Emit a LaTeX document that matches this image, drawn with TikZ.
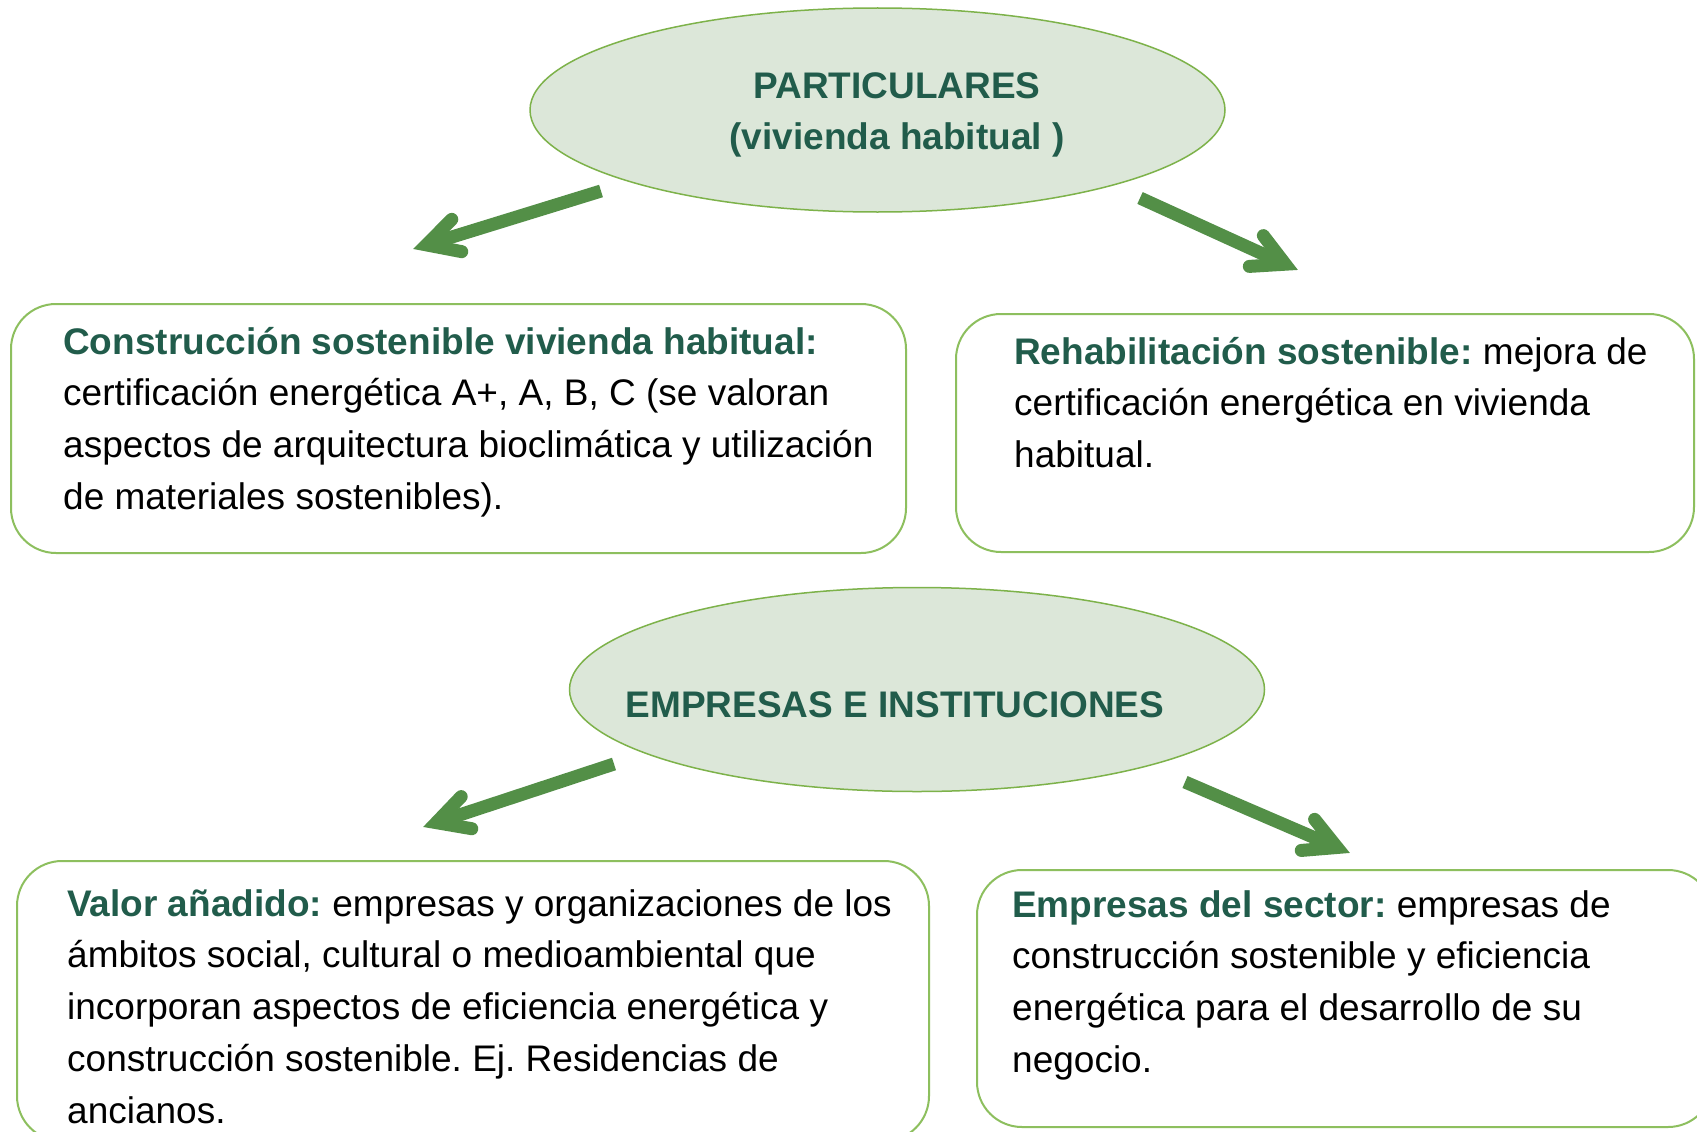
\documentclass[tikz,border=0pt]{standalone}
\usepackage{fontspec}
\setmainfont{Liberation Sans}
\usetikzlibrary{shapes.geometric,calc}
\definecolor{tgreen}{HTML}{215C4B}
\definecolor{efill}{HTML}{DCE7D9}
\definecolor{eline}{HTML}{7DB24A}
\definecolor{bline}{HTML}{8DBF5E}
\definecolor{agreen}{HTML}{538F47}
\frenchspacing
\newcommand{\hd}[1]{\textcolor{tgreen}{\bfseries #1}}
\newcommand{\greenarrow}[3]{%
  \coordinate (#1s) at (#2);
  \coordinate (#1t) at (#3);
  \coordinate (#1v) at ($(#1t)!14pt!(#1s)$);
  \draw[shaft] (#1s) -- (#1v);
  \draw[barb] ($(#1v)!36pt!28:(#1s)$) -- (#1v) -- ($(#1v)!36pt!-28:(#1s)$);
}
\begin{document}
\begin{tikzpicture}[x=1pt,y=-1pt,
  txt/.style={anchor=base west, inner sep=0pt, font=\fontsize{37}{51.8}\selectfont},
  ctxt/.style={anchor=base, inner sep=0pt, font=\fontsize{37}{51}\selectfont\bfseries, text=tgreen},
  oval/.style={ellipse, draw=eline, fill=efill, line width=1.5pt, inner sep=0pt, minimum width=695pt, minimum height=204pt},
  card/.style={draw=bline, line width=2pt, rounded corners=45pt, inner sep=0pt, anchor=north west},
  shaft/.style={draw=agreen, line width=13pt, line cap=butt},
  barb/.style={draw=agreen, line width=13pt, line cap=round, line join=miter},
]
\useasboundingbox (0,0) rectangle (1697,1132);
\clip (0,0) rectangle (1697,1132);
\fill[white] (0,0) rectangle (1697,1132);

% ellipses
\node[oval] (part) at (877.5,110) {};
\node[oval] (emp) at (917,689.5) {};
\node[ctxt] (partt) at (897,99) {\begin{tabular}[t]{@{}c@{}}PARTICULARES\\(vivienda habitual )\end{tabular}};
\node[ctxt] (empt) at (895,717) {EMPRESAS E INSTITUCIONES};

% boxes
\node[card, minimum width=895pt, minimum height=249pt] (box1) at (10,303) {};
\node[card, minimum width=738pt, minimum height=238pt] (box2) at (955,313) {};
\node[card, minimum width=912pt, minimum height=280pt] (box3) at (16,860) {};
\node[card, minimum width=736pt, minimum height=257pt] (box4) at (976,869) {};

\node[txt] (t1) at (63,354) {\begin{tabular}[t]{@{}l@{}}\hd{Construcción sostenible vivienda habitual:}\\
certificación energética A+, A, B, C (se valoran\\
aspectos de arquitectura bioclimática y utilización\\
de materiales sostenibles).\end{tabular}};

\node[txt] (t2) at (1014,364) {\begin{tabular}[t]{@{}l@{}}\hd{Rehabilitación sostenible:} mejora de\\
certificación energética en vivienda\\
habitual.\end{tabular}};

\node[txt] (t3) at (67,916) {\begin{tabular}[t]{@{}l@{}}\hd{Valor añadido:} empresas y organizaciones de los\\
ámbitos social, cultural o medioambiental que\\
incorporan aspectos de eficiencia energética y\\
construcción sostenible. Ej. Residencias de\\
ancianos.\end{tabular}};

\node[txt] (t4) at (1012,917) {\begin{tabular}[t]{@{}l@{}}\hd{Empresas del sector:} empresas de\\
construcción sostenible y eficiencia\\
energética para el desarrollo de su\\
negocio.\end{tabular}};

% arrows
\greenarrow{a1}{601,191}{413,249}
\greenarrow{a2}{1140,198}{1298,270}
\greenarrow{a3}{614,764}{423,827}
\greenarrow{a4}{1185,782}{1350,853}
\end{tikzpicture}
\end{document}
